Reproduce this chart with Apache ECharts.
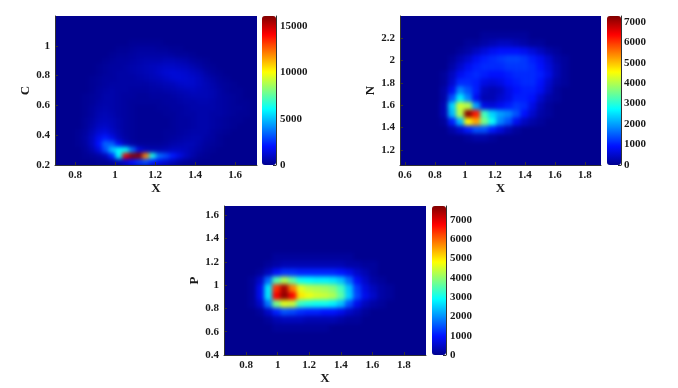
<!DOCTYPE html>
<html>
<head>
<meta charset="utf-8">
<script src="https://cdn.jsdelivr.net/npm/echarts@6/dist/echarts.min.js"></script>
<style>
  html, body { margin: 0; background: #fff; }
  #heat, #frame { position: absolute; left: 0; top: 0; width: 678px; height: 388px; }
  /* the source figure is a soft raster, so only the cells get blurred */
  #heat {
    filter: blur(2px);
    clip-path: path('M55 16H257V165H55Z M400 16H601V165H400Z M224 206H426V355H224Z');
  }
</style>
</head>
<body>
<div id="heat"></div>
<div id="frame"></div>
<script>
// cell values are counts / 100, rows run top to bottom, missing cells at a row end are 0
var unit = 100

var cSize = [30, 25]
var cRows = [
  [], [], [], [],
  [0,0,0,0,0,0,0,0,0,0,0,1,1,1,1,1],
  [0,0,0,0,0,0,0,0,0,1,1,2,3,3,3,2,2,1,1],
  [0,0,0,0,0,0,0,0,1,2,2,3,4,4,4,4,4,3,2,2,1],
  [0,0,0,0,0,0,0,1,2,3,3,4,5,6,6,6,7,7,6,5,3,2,1],
  [0,0,0,0,0,0,1,2,3,3,4,5,6,7,8,9,10,10,9,8,6,4,2,1],
  [0,0,0,0,0,0,1,2,3,4,4,5,6,7,8,10,12,13,12,11,9,7,4,2,1],
  [0,0,0,0,0,1,2,3,3,4,4,4,5,6,7,8,10,12,13,12,11,9,6,4,2,1],
  [0,0,0,0,0,1,2,3,4,4,4,4,4,4,5,6,7,8,10,11,11,9,7,5,3,2,1],
  [0,0,0,0,0,1,3,4,5,4,4,3,3,3,4,4,5,6,7,8,9,8,7,6,4,2,1,1],
  [0,0,0,0,1,2,3,5,5,4,3,3,2,2,3,3,3,4,5,6,7,7,7,6,4,3,2,1],
  [0,0,0,0,1,2,4,5,5,4,3,2,2,2,2,2,3,3,4,5,5,6,6,5,4,3,2,1,1],
  [0,0,0,0,1,3,5,6,5,4,3,2,1,1,1,2,2,3,3,4,5,5,5,5,4,3,2,2,1],
  [0,0,0,0,1,3,6,7,6,4,3,2,1,1,1,1,2,2,3,4,4,5,5,4,4,3,2,1,1],
  [0,0,0,0,2,4,7,8,7,5,3,2,1,1,1,1,1,2,3,3,4,5,5,4,3,2,1,1],
  [0,0,0,0,2,5,9,10,8,5,3,2,1,1,1,1,1,2,3,3,4,5,5,4,3,2,1],
  [0,0,0,1,3,7,12,14,10,6,3,2,1,1,1,1,2,2,3,4,5,5,5,3,2,1],
  [0,0,0,1,4,9,17,22,16,8,4,2,1,1,1,1,2,3,4,5,6,6,4,3,1],
  [0,0,0,1,3,9,20,34,33,18,8,4,2,2,2,2,3,5,6,7,7,5,3,2,1],
  [0,0,0,0,2,6,14,30,50,60,60,36,14,8,6,6,7,9,9,8,6,4,2,1],
  [0,0,0,0,1,2,4,8,24,60,145,160,160,120,65,36,30,22,15,9,5,2,1],
  [0,0,0,0,0,0,1,1,3,6,12,20,26,30,22,16,12,8,4,2,1]
]

var nSize = [25, 19]
var nRows = [
  [], [],
  [0,0,0,0,0,0,0,0,0,0,1,1,1,1,1,1],
  [0,0,0,0,0,0,0,0,1,1,2,3,4,4,3,2,1,1],
  [0,0,0,0,0,0,0,1,2,4,6,8,9,9,9,8,6,4,2,1],
  [0,0,0,0,0,0,1,3,5,8,10,11,12,13,13,12,10,8,5,2,1],
  [0,0,0,0,0,0,2,5,8,10,11,11,11,12,12,12,11,9,6,3,1],
  [0,0,0,0,0,1,4,8,10,11,10,9,9,10,11,11,11,10,7,3,1],
  [0,0,0,0,0,1,5,11,11,10,7,6,7,9,10,11,11,9,5,2,1],
  [0,0,0,0,0,2,8,18,14,10,4,3,4,7,9,10,10,8,4,1],
  [0,0,0,0,0,2,14,26,18,8,3,3,5,7,10,10,9,5,2,1],
  [0,0,0,0,0,3,24,42,40,20,7,6,8,10,12,11,7,3,1],
  [0,0,0,0,0,3,22,40,72,62,32,24,20,18,14,9,5,2,1],
  [0,0,0,0,0,1,10,22,46,52,36,28,18,14,8,4,2,1],
  [0,0,0,0,0,0,2,5,10,14,14,10,6,3,1],
  [0,0,0,0,0,0,0,0,1,2,2,1]
]

var pSize = [25, 19]
var pRows = [
  [], [], [], [], [], [],
  [0,0,0,0,0,0,1,1,1,1,1,1,1,1,1,1],
  [0,0,0,0,0,1,2,3,3,3,3,3,3,3,3,2,2,1,1],
  [0,0,0,0,1,4,9,12,12,11,11,11,11,11,10,8,5,3,1],
  [0,0,0,1,5,17,35,42,36,30,29,28,28,27,24,17,9,5,2,1],
  [0,0,0,1,8,27,64,74,58,46,43,42,41,39,34,24,13,7,4,2,1],
  [0,0,0,1,8,27,68,76,68,50,47,45,44,42,36,25,14,8,5,2,1],
  [0,0,0,1,5,18,38,46,44,33,31,30,30,28,24,15,8,4,2,1],
  [0,0,0,0,1,5,11,15,14,12,11,11,10,10,8,5,3,1],
  [0,0,0,0,0,1,3,4,4,4,3,3,3,3,2,1,1],
  [0,0,0,0,0,0,1,1,1,1,1,1,1]
]

var cXTicks = [0.8, 1, 1.2, 1.4, 1.6]
var cYTicks = [0.2, 0.4, 0.6, 0.8, 1]
var nXTicks = [0.6, 0.8, 1, 1.2, 1.4, 1.6, 1.8]
var nYTicks = [1.2, 1.4, 1.6, 1.8, 2, 2.2]
var pXTicks = [0.8, 1, 1.2, 1.4, 1.6, 1.8]
var pYTicks = [0.4, 0.6, 0.8, 1, 1.2, 1.4, 1.6]
var cBarTicks = [0, 5000, 10000, 15000]
var nBarTicks = [0, 1000, 2000, 3000, 4000, 5000, 6000, 7000]
var pBarTicks = [0, 1000, 2000, 3000, 4000, 5000, 6000, 7000]

var jet = ['#00008f', '#0010ff', '#0088ff', '#00ffff', '#80ff80', '#ffff00', '#ff8000', '#ff0000', '#800000']
var font = { fontFamily: 'Liberation Serif', fontWeight: 'bold', color: '#1a1a1a' }

var panels = [
  { name: 'C', rows: cRows, size: cSize, xTicks: cXTicks, yTicks: cYTicks, barTicks: cBarTicks,
    xRange: [0.7, 1.71], yRange: [0.2, 1.2], barMax: 16100,
    box: { left: 55, top: 16, width: 202, height: 149 }, barLeft: 262, barGap: 4, nameGap: 21 },
  { name: 'N', rows: nRows, size: nSize, xTicks: nXTicks, yTicks: nYTicks, barTicks: nBarTicks,
    xRange: [0.567, 1.907], yRange: [1.065, 2.4], barMax: 7280,
    box: { left: 400, top: 16, width: 201, height: 149 }, barLeft: 607, barGap: 3, nameGap: 21 },
  { name: 'P', rows: pRows, size: pSize, xTicks: pXTicks, yTicks: pYTicks, barTicks: pBarTicks,
    xRange: [0.66, 1.94], yRange: [0.4, 1.68], barMax: 7725,
    box: { left: 224, top: 206, width: 202, height: 149 }, barLeft: 432, barGap: 4, nameGap: 19 }
]

function indexList (n) {
  var list = []
  for (var i = 0; i < n; i++) list.push(i)
  return list
}

function cells (rows) {
  var out = []
  rows.forEach(function (row, r) {
    row.forEach(function (v, c) {
      if (v > 0) out.push([c, r, v * unit])
    })
  })
  return out
}

// layer below: only the heat cells
var heatOption = {
  animation: false,
  grid: panels.map(function (p) {
    return Object.assign({ show: true, backgroundColor: jet[0], borderColor: jet[0], borderWidth: 12 }, p.box)
  }),
  xAxis: panels.map(function (p, i) {
    return { type: 'category', gridIndex: i, show: false, data: indexList(p.size[0]) }
  }),
  yAxis: panels.map(function (p, i) {
    return { type: 'category', gridIndex: i, show: false, inverse: true, data: indexList(p.size[1]) }
  }),
  visualMap: panels.map(function (p, i) {
    return { show: false, seriesIndex: i, min: 0, max: p.barMax, inRange: { color: jet } }
  }),
  series: panels.map(function (p, i) {
    return { type: 'heatmap', xAxisIndex: i, yAxisIndex: i, data: cells(p.rows), progressive: 0, silent: true }
  })
}

// layer above: axes, tick labels and colour bars
function valueAxis (grid, pos, range, ticks, name, nameGap) {
  return {
    type: 'value', gridIndex: grid, position: pos, min: range[0], max: range[1],
    name: name, nameLocation: 'middle', nameGap: nameGap,
    nameTextStyle: Object.assign({ fontSize: 13 }, font),
    splitLine: { show: false },
    axisLine: { show: true, onZero: false, lineStyle: { color: '#333', width: 1 } },
    axisTick: { show: true, inside: true, length: 3, customValues: ticks, lineStyle: { color: '#333' } },
    axisLabel: Object.assign({ fontSize: 11, margin: 5, customValues: ticks, formatter: function (v) { return String(v) } }, font)
  }
}

var grids = []
var xAxes = []
var yAxes = []
var bars = []
panels.forEach(function (p) {
  var g = grids.length
  grids.push(p.box)
  xAxes.push(valueAxis(g, 'bottom', p.xRange, p.xTicks, 'X', 12))
  yAxes.push(valueAxis(g, 'left', p.yRange, p.yTicks, p.name, p.nameGap))
  grids.push({ left: p.barLeft, top: p.box.top, width: 14, height: p.box.height })
  xAxes.push({ type: 'value', gridIndex: g + 1, show: false, min: 0, max: 1 })
  var barAxis = valueAxis(g + 1, 'right', [0, p.barMax], p.barTicks, '', 0)
  barAxis.axisLabel.margin = p.barGap
  yAxes.push(barAxis)
  bars.push({
    type: 'continuous', left: p.barLeft, top: p.box.top, itemWidth: 14, itemHeight: p.box.height,
    padding: 0, min: 0, max: p.barMax, calculable: false, showLabel: false, hoverLink: false,
    seriesIndex: [], inRange: { color: jet }
  })
})

var frameOption = { animation: false, grid: grids, xAxis: xAxes, yAxis: yAxes, visualMap: bars, series: [] }

echarts.init(document.getElementById('heat')).setOption(heatOption)
echarts.init(document.getElementById('frame')).setOption(frameOption)
</script>
</body>
</html>
